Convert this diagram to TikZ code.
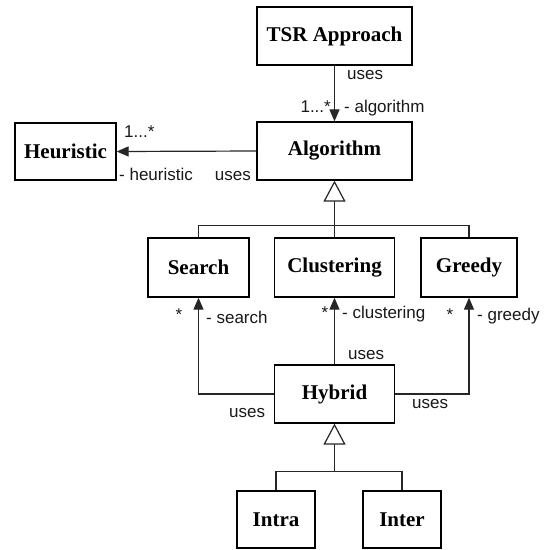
\documentclass[tikz,border=0pt]{standalone}
\usepackage{fontspec}
\setmainfont{Liberation Serif}
\newfontfamily\labfont{Liberation Sans}
\usetikzlibrary{arrows.meta,calc}
\begin{document}
\begin{tikzpicture}[x=1pt,y=-1pt,
  cls/.style={draw=black,line width=1.3pt,fill=white,inner sep=0pt,
    font=\fontsize{21}{25}\selectfont\bfseries,text=black},
  conn/.style={draw=black!85,line width=1.2pt},
  usesarrow/.style={conn,-{Triangle[width=10pt,length=12pt]}},
  genarrow/.style={conn,-{Triangle[open,width=22pt,length=21pt,fill=white]}},
  lab/.style={inner sep=0pt,font=\labfont\fontsize{17}{20}\selectfont,text=black!90}
]
\useasboundingbox[fill=white] (0,0) rectangle (546,550);

% classes
\node[cls,minimum width=155pt,minimum height=58pt] (tsr) at (334.5,36) {TSR Approach};
\node[cls,minimum width=155pt,minimum height=58pt] (alg) at (334.5,151) {Algorithm};
\node[cls,minimum width=101pt,minimum height=57pt] (heu) at (65.5,151.5) {Heuristic};
\node[cls,minimum width=101pt,minimum height=59pt] (search) at (198.5,267.5) {Search};
\node[cls,minimum width=120pt,minimum height=59pt] (clus) at (334.5,267.5) {Clustering};
\node[cls,minimum width=96pt,minimum height=59pt] (greedy) at (469,267.5) {Greedy};
\node[cls,minimum width=120pt,minimum height=58pt] (hyb) at (334.5,394) {Hybrid};
\node[cls,minimum width=78pt,minimum height=57pt] (intra) at (276,519.5) {Intra};
\node[cls,minimum width=78pt,minimum height=57pt] (inter) at (402,519.5) {Inter};

% associations
\draw[usesarrow] (tsr.south) -- (alg.north);
\draw[usesarrow] (alg.west) -- (heu.east);
\draw[usesarrow] (hyb.west) -| (search.south);
\draw[usesarrow] (hyb.north) -- (clus.south);
\draw[usesarrow] (hyb.east) -| (greedy.south);

% generalization Algorithm
\coordinate (j1) at ($(alg.south)+(0,45)$);
\draw[conn] (search.north) |- (j1) -| (greedy.north);
\draw[genarrow] (clus.north) -- (alg.south);
% generalization Hybrid
\coordinate (j2) at ($(hyb.south)+(0,48)$);
\draw[conn] (intra.north) |- (j2) -| (inter.north);
\draw[genarrow] (j2) -- (hyb.south);

% labels
\node[lab,anchor=base west] (l1) at (347,79) {uses};
\node[lab,anchor=base east] (l2) at (331,112) {1...*};
\node[lab,anchor=base west] (l3) at (344,112) {- algorithm};
\node[lab,anchor=base west] (l4) at (124,137) {1...*};
\node[lab,anchor=base west] (l5) at (119,180) {- heuristic};
\node[lab,anchor=base east] (l6) at (251,180) {uses};
\node[lab,anchor=base] (l7) at (179,320) {*};
\node[lab,anchor=base west] (l8) at (206,323) {- search};
\node[lab,anchor=base] (l9) at (325,318) {*};
\node[lab,anchor=base west] (l10) at (342,318) {- clustering};
\node[lab,anchor=base] (l11) at (450,320) {*};
\node[lab,anchor=base west] (l12) at (477,320) {- greedy};
\node[lab,anchor=base west] (l13) at (348,359) {uses};
\node[lab,anchor=base west] (l14) at (229,417) {uses};
\node[lab,anchor=base west] (l15) at (412,408) {uses};
\end{tikzpicture}
\end{document}
